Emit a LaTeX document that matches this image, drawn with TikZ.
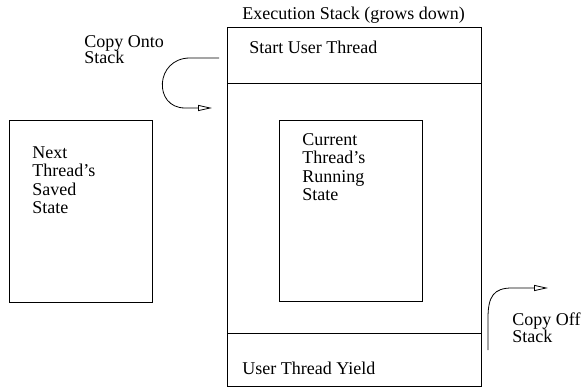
\documentclass[tikz,border=0pt]{standalone}
\usepackage{fontspec}
\setmainfont{Liberation Serif}
\usetikzlibrary{arrows.meta}

\begin{document}
\begin{tikzpicture}[x=1pt,y=-1pt]
    \useasboundingbox (0,0) rectangle (581,387);
    \begin{scope}[line width=0.8pt,font=\fontsize{18}{18.5}\selectfont,
        every node/.style={inner sep=0pt,anchor=base west,align=left},
        copy/.style={-{Triangle[open,length=14pt,width=6pt]}}]

        % execution stack
        \draw (227,27) rectangle (481,386.5);
        \draw (227,83) -- (481,83);
        \draw (227,333) -- (481,333);
        \node (title) at (242,20) {Execution Stack (grows down)};
        \node (start) at (249,54) {Start User Thread};
        \node (yield) at (242,374) {User Thread Yield};

        \draw (279,120) rectangle (422,301);
        \node (current) at (302,201) {Current\\Thread's\\Running\\State};

        % saved state
        \draw (9,120) rectangle (152,302);
        \node (next) at (32,214) {Next\\Thread's\\Saved\\State};

        % copying
        \node[font=\fontsize{18}{16.5}\selectfont] (onto) at (84,64) {Copy Onto\\Stack};
        \coordinate (onto from) at (219,58);
        \coordinate (onto to) at (212,108);
        \draw[copy] (onto from) -- (190,58) .. controls (155,58) and (153,108) .. (185,108) -- (onto to);

        \node[font=\fontsize{18}{17}\selectfont] (off) at (512,342) {Copy Off\\Stack};
        \coordinate (off from) at (488,350);
        \coordinate (off to) at (548,288);
        \draw[copy] (off from) -- (488,318) .. controls (488,296) and (494,288) .. (512,288) -- (off to);
    \end{scope}
\end{tikzpicture}
\end{document}
